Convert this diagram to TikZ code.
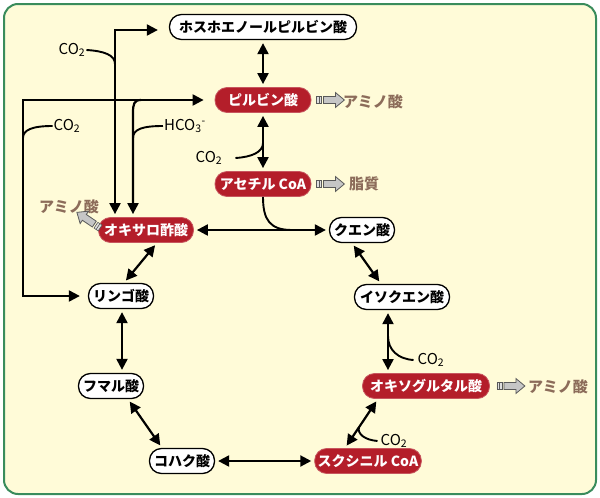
\documentclass[tikz,border=0pt]{standalone}
\usepackage{fontspec}
\setmainfont{Noto Sans CJK JP}
\usetikzlibrary{arrows.meta,calc}
\definecolor{paper}{HTML}{FFFBD8}
\definecolor{rim}{HTML}{3A8C5C}
\definecolor{keyred}{HTML}{B41E2A}
\definecolor{yieldbrown}{HTML}{8C6C5A}
\tikzset{
  acid/.style={draw,line width=1.3pt,fill=white,rounded corners=12pt,minimum height=25pt,inner xsep=3pt,font=\bfseries\fontsize{14}{15}\selectfont},
  hub/.style={acid,draw=keyred!75!white,line width=0.8pt,fill=keyred,text=white},
  flow/.style={line width=2.2pt,shorten >=3pt,shorten <=3pt},
  gas/.style={inner sep=1pt,font=\fontsize{15}{16}\selectfont},
  branch/.style={line width=1.9pt},
  yieldtext/.style={text=yieldbrown,font=\bfseries\fontsize{15}{16}\selectfont},
  feed/.pic={
    \draw[gray!70!black,fill=gray!25,line width=.6pt] (0,-3.5) rectangle (5,3.5) (2.5,-3.5) -- (2.5,3.5);
    \draw[gray!70!black,fill=gray!45,line width=.8pt] (7,-3.5) -- (19,-3.5) -- (19,-7.5) -- (28,0) -- (19,7.5) -- (19,3.5) -- (7,3.5) -- cycle;
  }
}
\begin{document}
\begin{tikzpicture}[x=1pt,y=-1pt,>={Triangle[width=11pt,length=11pt]}]
\useasboundingbox (0,0) rectangle (600,498);
\draw[rim,line width=2pt,fill=paper,rounded corners=14pt] (4,4) rectangle (596,494);

\node[acid,minimum width=187] (pep) at (263,27) {ホスホエノールピルビン酸};
\node[hub,minimum width=96] (pyr) at (263,100) {ピルビン酸};
\node[hub,minimum width=96] (acoa) at (263,184) {アセチル CoA};
\node[hub,minimum width=95] (oxa) at (146,230) {オキサロ酢酸};
\node[acid,minimum width=65] (cit) at (362,230) {クエン酸};
\node[acid,minimum width=65] (mal) at (121,296) {リンゴ酸};
\node[acid,minimum width=95] (iso) at (402,297) {イソクエン酸};
\node[acid,minimum width=65] (fum) at (111,386) {フマル酸};
\node[hub,minimum width=127] (okg) at (426,386) {オキソグルタル酸};
\node[acid,minimum width=65] (suc) at (182,461) {コハク酸};
\node[hub,minimum width=105] (scoa) at (368,461) {スクシニル CoA};

\node[gas] (co2pep) at (72,50) {CO\textsubscript{2}};
\node[gas] (co2mal) at (67,126) {CO\textsubscript{2}};
\node[gas] (hco3) at (185,126) {HCO\textsubscript{3}\textsuperscript{-}};
\node[gas] (co2pyr) at (209,158) {CO\textsubscript{2}};
\node[gas] (co2iso) at (431,360) {CO\textsubscript{2}};
\node[gas] (co2okg) at (394,441) {CO\textsubscript{2}};

\node[yieldtext] (aa1) at (373,102) {アミノ酸};
\node[yieldtext] (fat) at (364,184) {脂質};
\node[yieldtext] (aa2) at (558,387) {アミノ酸};
\node[yieldtext] (aa3) at (69,207) {アミノ酸};
\pic at ([xshift=5pt]pyr.east) {feed};
\pic at ([xshift=5pt]acoa.east) {feed};
\pic at ([xshift=7pt]okg.east) {feed};
\pic[rotate=146] at ([xshift=2pt,yshift=2pt]oxa.west) {feed};

\draw[flow,<->] (pep) -- (pyr);
\draw[flow,<->] (pyr) -- (acoa);
\draw[flow,<->] (oxa) -- (cit);
\draw[flow,<->] (suc) -- (scoa);
\draw[flow,<->] ([xshift=-10pt]cit.south) -- ([xshift=-21pt]iso.north);
\draw[flow,<->] ([xshift=-14pt]iso.south) -- ([xshift=-14pt]iso.south |- okg.north);
\draw[flow,<->] ([xshift=-48pt]okg.south) -- ([xshift=-23pt]scoa.north);
\draw[flow,<->] ([xshift=17pt]fum.south) -- ([xshift=-20pt]suc.north);
\draw[flow,<->] ([xshift=1pt]mal.south) -- ([xshift=1pt]mal.south |- fum.north);
\draw[flow,<->] ([xshift=3pt]mal.north) -- ([xshift=11pt]oxa.south);

\coordinate (pepin) at ([xshift=-8pt,yshift=-3pt]pep.west);
\coordinate (pyrin) at ([xshift=-8pt]pyr.west);
\coordinate (malin) at ([xshift=-5pt]mal.west);
\coordinate (loop) at (23,200);
\coordinate (fork) at (141,100);
\draw[flow,<->] ([xshift=-31pt]oxa.north) |- (pepin);
\draw[flow,<->] (pyrin) -| (loop) |- (malin);
\draw[flow,->,shorten <=0pt] (fork) .. controls (134,100) and (133,104) .. (133,113) -- ([xshift=-13pt]oxa.north);

\draw[branch] (co2pep.east) .. controls (104,51) and (115,55) .. (115,64);
\draw[branch] (co2mal.west) .. controls (32,126) and (23,130) .. (23,138);
\draw[branch] (hco3.west) .. controls (143,126) and (133,129) .. (133,138);
\draw[branch] ([xshift=12pt]co2pyr.east) .. controls (252,157) and (263,152) .. (263,143);
\draw[branch] (388,336) .. controls (388,350) and (398,359) .. ([xshift=-3pt]co2iso.west);
\draw[branch] (359,427) .. controls (357,434) and (365,440) .. ([xshift=-2pt]co2okg.west);
\draw[branch] (acoa.south) .. controls (263,220) and (270,230) .. (292,230);
\end{tikzpicture}
\end{document}
